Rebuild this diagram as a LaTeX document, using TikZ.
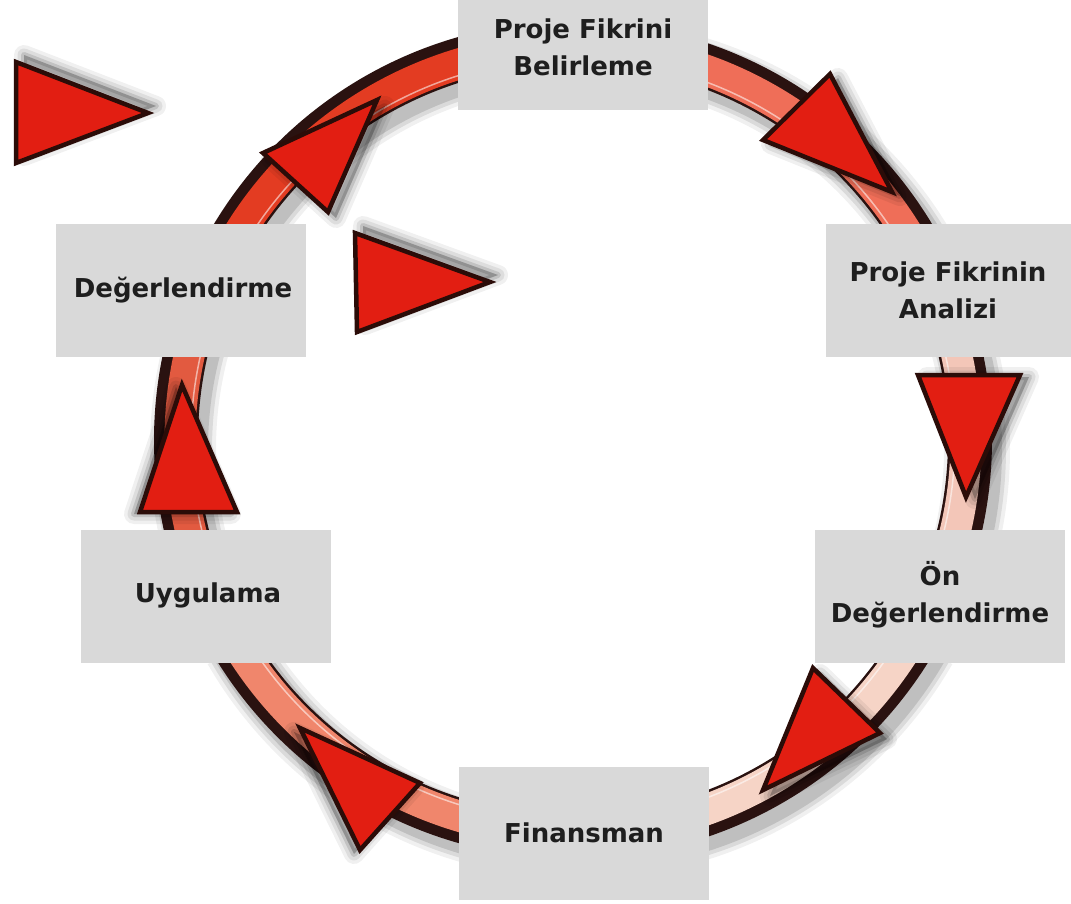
\documentclass[tikz,border=0pt]{standalone}
\usepackage{fontspec}
\setmainfont{DejaVu Sans}
\definecolor{boxgray}{HTML}{D9D9D9}
\definecolor{txt}{HTML}{1E1E1E}
\definecolor{trired}{HTML}{E21E12}
\definecolor{tridark}{HTML}{2B0C08}
\definecolor{ringdark}{HTML}{2A1210}
\definecolor{segA}{HTML}{EF6E58}
\definecolor{segB}{HTML}{F3C6B8}
\definecolor{segC}{HTML}{F6D4C6}
\definecolor{segD}{HTML}{F0866C}
\definecolor{segE}{HTML}{E25A40}
\definecolor{segF}{HTML}{E33C22}
\newcommand\ringseg[3]{%
  \foreach \w/\o in {66/0.06,58/0.09,50/0.12}
    \draw[line width=\w pt, black, opacity=\o] ([shift={(7,9)}]c) ++(#1:397) arc[start angle=#1, end angle=#2, radius=397];
  \draw[line width=44pt, ringdark] (c) ++(#1:397) arc[start angle=#1, end angle=#2, radius=397];
  \draw[line width=31pt, #3] (c) ++(#1:393) arc[start angle=#1, end angle=#2, radius=393];
  \draw[line width=1.5pt, white, opacity=0.55] (c) ++(#1:382) arc[start angle=#1, end angle=#2, radius=382];
}
\newcommand\arrowtri[4]{%
  \begin{scope}[shift={#4}]
    \foreach \w/\o in {20/0.06,13/0.08,6/0.12}
      \filldraw[black, opacity=\o, line width=\w pt, line join=round] #1 -- #2 -- #3 -- cycle;
  \end{scope}
  \filldraw[tri] #1 -- #2 -- #3 -- cycle;
}
\begin{document}
\begin{tikzpicture}[x=1pt,y=-1pt,
  box/.style={fill=boxgray, minimum width=250pt, minimum height=133pt, inner sep=0pt},
  lbl/.style={align=center, font=\fontsize{26}{37}\selectfont\bfseries, text=txt, inner sep=0pt},
  tri/.style={fill=trired, draw=tridark, line width=4.5pt, line join=miter},
]
\useasboundingbox (0,0) rectangle (1071,903);
\fill[white] (0,0) rectangle (1071,903);
\coordinate (c) at (573,440);

% ring segments (connectors between the boxes)
\ringseg{285}{331}{segA}
\ringseg{344}{377}{segB}
\ringseg{30}{74}{segC}
\ringseg{102}{150}{segD}
\ringseg{163}{196}{segE}
\ringseg{209}{258}{segF}

% arrowheads on the ring
\arrowtri{(763,140)}{(830,74)}{(892,192)}{(8,4)}
\arrowtri{(918,375)}{(1020,375)}{(966,497)}{(9,2)}
\arrowtri{(813,668)}{(880,733)}{(763,790)}{(7,6)}
\arrowtri{(420,783)}{(360,850)}{(300,728)}{(-6,4)}
\arrowtri{(140,512)}{(237,512)}{(182,385)}{(-6,2)}
\arrowtri{(263,153)}{(328,212)}{(377,100)}{(8,6)}

% boxes
\node[box] (b1) at (583,43.5) {};
\node[box] (b2) at (951,290.5) {};
\node[box] (b3) at (940,596) {};
\node[box] (b4) at (584,833.5) {};
\node[box] (b5) at (206,596) {};
\node[box] (b6) at (181,290.5) {};

\node[lbl] (t1) at (583,47) {Proje Fikrini\\Belirleme};
\node[lbl] (t2) at (948,290.5) {Proje Fikrinin\\Analizi};
\node[lbl] (t3) at (940,595) {Ön\\Değerlendirme};
\node[lbl] (t4) at (584,833) {Finansman};
\node[lbl] (t5) at (208,595) {Uygulama};
\node[lbl] (t6) at (183,290) {Değerlendirme};

% free-floating triangles
\arrowtri{(16,62)}{(16,163)}{(148,113)}{(8,-7)}
\arrowtri{(355,233)}{(357,332)}{(490,282)}{(8,-7)}
\end{tikzpicture}
\end{document}
